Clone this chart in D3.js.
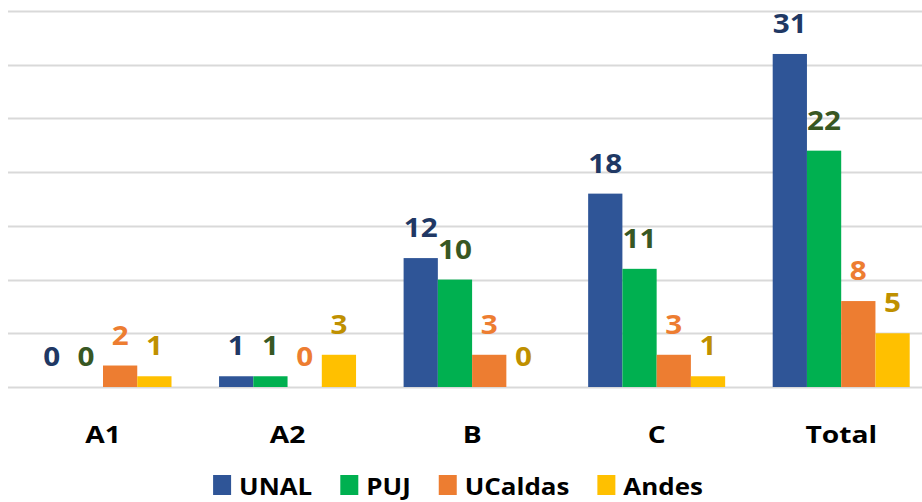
<!DOCTYPE html>
<html>
<head>
<meta charset="utf-8">
<script src="https://cdn.jsdelivr.net/npm/d3@7"></script>
<style>
  body { margin: 0; background: #fff; }
  text { font-family: "Open Sans", sans-serif; font-weight: bold; }
</style>
</head>
<body>
<svg width="922" height="502"></svg>
<script>
// data
var categories = ["A1", "A2", "B", "C", "Total"];
var series = ["UNAL", "PUJ", "UCaldas", "Andes"];
var UNAL = [0, 1, 12, 18, 31];
var PUJ = [0, 1, 10, 11, 22];
var UCaldas = [2, 0, 3, 3, 8];
var Andes = [1, 3, 0, 1, 5];
var yTicks = [0, 5, 10, 15, 20, 25, 30, 35];

var values = { UNAL: UNAL, PUJ: PUJ, UCaldas: UCaldas, Andes: Andes };
var barColors = { UNAL: "#2F5597", PUJ: "#00B050", UCaldas: "#ED7D31", Andes: "#FFC000" };
var labelColors = { UNAL: "#203864", PUJ: "#385723", UCaldas: "#ED7D31", Andes: "#BF9000" };

var svg = d3.select("svg"),
    width = +svg.attr("width"),
    height = +svg.attr("height");

// scales
var x0 = d3.scaleBand()
    .domain(categories)
    .range([10.75, 933.5]);

var x1 = d3.scaleBand()
    .domain(series)
    .range([23.75, 160.75]);

var y = d3.scaleLinear()
    .domain([0, 35])
    .range([387, 11]);

// gridlines
svg.append("g")
    .selectAll("line")
    .data(yTicks)
    .enter().append("line")
    .attr("x1", 8)
    .attr("x2", width)
    .attr("y1", function (d) { return Math.round(y(d)) + 0.5; })
    .attr("y2", function (d) { return Math.round(y(d)) + 0.5; })
    .style("stroke", "#d9d9d9")
    .style("stroke-width", 2);

var rows = [];
categories.forEach(function (c, i) {
    series.forEach(function (s) {
        rows.push({ cat: c, s: s, v: values[s][i] });
    });
});

// bars
svg.append("g")
    .selectAll("rect")
    .data(rows.filter(function (d) { return d.v > 0; }))
    .enter().append("rect")
    .attr("x", function (d) { return x0(d.cat) + x1(d.s); })
    .attr("y", function (d) { return y(d.v); })
    .attr("width", x1.bandwidth())
    .attr("height", function (d) { return y(0) - y(d.v); })
    .attr("fill", function (d) { return barColors[d.s]; });

// value labels
svg.append("g")
    .selectAll("text")
    .data(rows)
    .enter().append("text")
    .attr("transform", function (d) {
        return "translate(" + (x0(d.cat) + x1(d.s) + x1.bandwidth() / 2) + "," + (y(d.v) - 21) + ") scale(1.12,1)";
    })
    .attr("text-anchor", "middle")
    .style("font-size", "26.5px")
    .style("fill", function (d) { return labelColors[d.s]; })
    .text(function (d) { return d.v; });

// category axis labels
svg.append("g")
    .selectAll("text")
    .data(categories)
    .enter().append("text")
    .attr("transform", function (d) {
        return "translate(" + (x0(d) + x0.bandwidth() / 2) + ",443) scale(1.2,1)";
    })
    .attr("text-anchor", "middle")
    .style("font-size", "23.5px")
    .style("fill", "#000")
    .text(function (d) { return d; });

// legend
var legend = svg.append("g");
var items = legend.selectAll("g")
    .data(series)
    .enter().append("g");

items.append("rect")
    .attr("width", 18)
    .attr("height", 20)
    .attr("y", 475)
    .attr("fill", function (d) { return barColors[d]; });

items.append("text")
    .attr("y", 495)
    .style("font-size", "24px")
    .style("fill", "#000")
    .text(function (d) { return d; });

var lx = 0, sx = 1.08;
items.each(function () {
    var g = d3.select(this);
    var w = g.select("text").node().getComputedTextLength() * sx;
    g.select("rect").attr("x", lx);
    g.select("text").attr("transform", "translate(" + (lx + 26) + ",0) scale(" + sx + ",1)");
    lx += 26 + w + 28;
});
lx -= 28;
legend.attr("transform", "translate(" + (458 - lx / 2) + ",0)");
</script>
</body>
</html>
